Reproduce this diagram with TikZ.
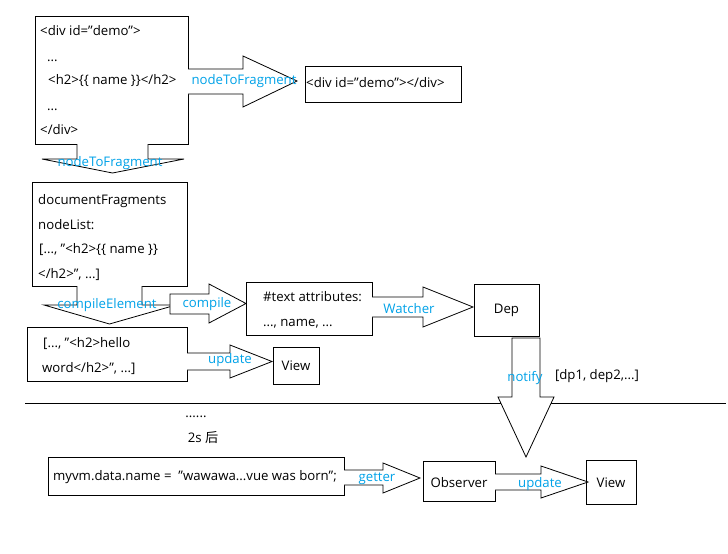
\documentclass[tikz,border=0pt]{standalone}
\usepackage{fontspec}
\setmainfont{Open Sans}
\newfontfamily\cjk{Noto Sans CJK SC}
\definecolor{labelblue}{RGB}{0,162,232}
\tikzset{
	box/.style={draw, line width=1pt, inner sep=0pt},
	txt/.style={anchor=base west, inner sep=0pt},
	ctxt/.style={anchor=base, inner sep=0pt},
	lbl/.style={anchor=base, inner sep=0pt, text=labelblue},
	blockarrow/.style={draw, fill=white, line width=0.8pt, line join=miter},
}
\begin{document}
\begin{tikzpicture}[x=1pt, y=-1pt, font=\fontsize{13.2}{15}\selectfont]

	\useasboundingbox (0,0) rectangle (728,554);

	% --- boxes ---
	\node[box, minimum width=153, minimum height=128] (src) at (111.5,80) {};
	\node[box, minimum width=156, minimum height=36] (empty) at (383,84) {};
	\node[box, minimum width=155, minimum height=104] (frag) at (109.5,234) {};
	\node[box, minimum width=160, minimum height=54] (done) at (107,354) {};
	\node[box, minimum width=126, minimum height=53] (attr) at (309,308.5) {};
	\node[box, minimum width=65, minimum height=52] (dep) at (506.5,310) {};
	\node[box, minimum width=46, minimum height=37] (viewA) at (296,365.5) {};
	\node[box, minimum width=296, minimum height=38] (setter) at (196,476) {};
	\node[box, minimum width=72, minimum height=40] (obs) at (459,481) {};
	\node[box, minimum width=50, minimum height=44] (viewB) at (611,482) {};

	% --- time line ---
	\draw[line width=1pt] (25,403.5) -- (726,403.5);

	% --- block arrows ---
	\draw[blockarrow] (188,69) -- (243,69) -- (243,56) -- (297,81) -- (243,107) -- (243,94) -- (188,94);
	\draw[blockarrow] (77,144) -- (77,159) -- (42,159) -- (112.5,173) -- (184,159) -- (148,159) -- (148,144);
	\draw[blockarrow] (77,286) -- (77,305) -- (44,305) -- (109.5,324) -- (176,305) -- (142,305) -- (142,286);
	\draw[blockarrow] (170,294) -- (209,294) -- (209,284) -- (246,303.5) -- (209,323) -- (209,314) -- (170,314) -- cycle;
	\draw[blockarrow] (372,297) -- (423,297) -- (423,287) -- (473,307) -- (423,327) -- (423,317) -- (372,317);
	\draw[blockarrow] (187,353) -- (230,353) -- (230,345) -- (272,361.5) -- (230,378) -- (230,370) -- (187,370);
	\draw[blockarrow] (512,338) -- (540,338) -- (540,397) -- (554,397) -- (526,457) -- (498,397) -- (512,397) -- cycle;
	\draw[blockarrow] (344,470) -- (383,470) -- (383,463) -- (420,478) -- (383,493) -- (383,485) -- (344,485);
	\draw[blockarrow] (495,474) -- (541,474) -- (541,466) -- (588,482) -- (541,498) -- (541,490) -- (495,490);

	% --- box texts ---
	\node[txt] (s1) at (40,35) {<div id="demo">};
	\node[txt] (s2) at (47,61) {...};
	\node[txt] (s3) at (48,84) {<h2>\{\{ name \}\}</h2>};
	\node[txt] (s4) at (47,110) {...};
	\node[txt] (s5) at (40,134) {</div>};
	\node[txt] (e1) at (306,87) {<div id="demo"></div>};
	\node[txt] (f1) at (38,204) {documentFragments};
	\node[txt] (f2) at (38,229) {nodeList:};
	\node[txt] (f3) at (39,253) {[..., "<h2>\{\{ name \}\}};
	\node[txt] (f4) at (38,278) {</h2>", ...]};
	\node[txt] (d1) at (43,347) {[..., "<h2>hello};
	\node[txt] (d2) at (42,372) {word</h2>", ...]};
	\node[txt] (a1) at (263,301) {\#text attributes:};
	\node[txt] (a2) at (263,326) {..., name, ...};
	\node[ctxt] (depname) at (506.5,313) {Dep};
	\node[ctxt] (viewAname) at (296,370) {View};
	\node[txt] (m1) at (53,480) {myvm.data.name =\ \ "wawawa...vue was born";};
	\node[ctxt] (obsname) at (459,487) {Observer};
	\node[ctxt] (viewBname) at (611,487) {View};
	\node[ctxt] (deps) at (597,379) {[dp1, dep2,...]};
	\node[ctxt] (dots) at (196,417) {......};
	\node[ctxt] (later) at (203,442) {2s {\cjk 后}};

	% --- arrow labels ---
	\node[lbl] (l1) at (244,84) {nodeToFragment};
	\node[lbl] (l2) at (110,166) {nodeToFragment};
	\node[lbl] (l3) at (107,308) {compileElement};
	\node[lbl] (l4) at (207,307) {compile};
	\node[lbl] (l5) at (409,313) {Watcher};
	\node[lbl] (l6) at (230,363) {update};
	\node[lbl] (l7) at (525,381) {notify};
	\node[lbl] (l8) at (377,481) {getter};
	\node[lbl] (l9) at (540,487) {update};

\end{tikzpicture}
\end{document}
